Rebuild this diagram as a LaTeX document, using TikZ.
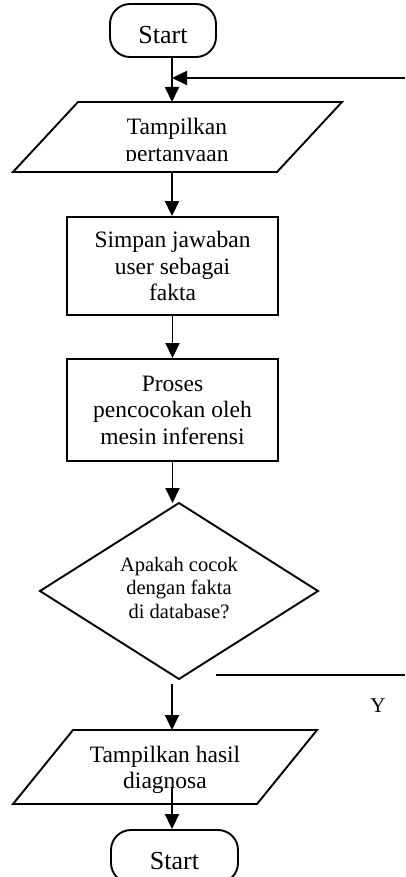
\documentclass[tikz,border=0pt]{standalone}
\usepackage{fontspec}
\setmainfont{Liberation Serif}
\usetikzlibrary{arrows.meta}
\begin{document}
\begin{tikzpicture}[x=1pt,y=-1pt,
  line width=1.9pt,
  shapeline/.style={draw=black,line width=1.9pt,line join=miter},
  flow/.style={-{Triangle[length=15pt,width=14pt]},line width=1.9pt},
  txt/.style={font=\fontsize{23.5}{26.5}\selectfont,align=center,inner sep=0pt},
  dtxt/.style={font=\fontsize{20.5}{23.3}\selectfont,align=center,inner sep=0pt},
  term/.style={draw,rounded corners=20pt,minimum width=106pt,minimum height=53pt,inner sep=0pt,
    line width=1.9pt,font=\fontsize{26}{28}\selectfont,text height=26pt,text depth=0pt},
  boxst/.style={draw,minimum width=211pt,inner sep=0pt,line width=1.9pt,
    font=\fontsize{23.5}{26.5}\selectfont,align=center}
]
\clip (0,0) rectangle (405,877);
\fill[white] (0,0) rectangle (405,877);

% terminal start
\node[term] (s1) at (163,30.5) {Start};

% parallelogram 1
\coordinate (p1a) at (78,102);
\coordinate (p1c) at (342,102);
\coordinate (p1d) at (277,172);
\coordinate (p1e) at (13,172);
\draw[shapeline] (p1a) -- (p1c) -- (p1d) -- (p1e) -- cycle;
\begin{scope}
\clip (0,0) rectangle (405,160.5);
\node[txt] (p1) at (177,142.6) {Tampilkan\\pertanyaan};
\end{scope}
\coordinate (p1t) at (172,102);
\coordinate (p1b) at (172,172);

% boxes
\node[boxst,minimum height=98pt] (b1) at (172.5,266) {Simpan jawaban\\user sebagai\\fakta};
\node[boxst,minimum height=102pt] (b2) at (172.5,410) {Proses\\pencocokan oleh\\mesin inferensi};

% decision
\coordinate (dT) at (179,503);
\coordinate (dR) at (318,591);
\coordinate (dB) at (179,679);
\coordinate (dL) at (40,591);
\draw[shapeline] (dT) -- (dR) -- (dB) -- (dL) -- cycle;
\node[dtxt] (d) at (179,588) {Apakah cocok\\dengan fakta\\di database?};

% parallelogram 2
\coordinate (p2a) at (73,730);
\coordinate (p2c) at (317,730);
\coordinate (p2d) at (257,804);
\coordinate (p2e) at (13,804);
\draw[shapeline] (p2a) -- (p2c) -- (p2d) -- (p2e) -- cycle;
\node[txt] (p2) at (165,770) {Tampilkan hasil\\diagnosa};
\coordinate (p2t) at (172,730);
\coordinate (p2in) at (172,787);

% terminal end
\node[term,minimum width=127pt] (s2) at (174.5,856.5) {Start};

% connectors
\coordinate (fbR) at (405,78);
\draw[flow] (s1.south -| p1t) -- (p1t);
\draw[flow] (fbR) -- (fbR -| p1t);
\draw[flow] (p1b) -- (b1.north -| p1b);
\draw[flow] (b1.south) -- (b2.north);
\draw[flow] (b2.south) -- (b2.south |- dT);
\coordinate (yL) at (216,675);
\coordinate (yR) at (405,675);
\draw (yL) -- (yR);
\node[font=\fontsize{21}{24}\selectfont,anchor=base,inner sep=0pt] (ylab) at (378,712) {Y};
\coordinate (dOut) at (172,684);
\draw[flow] (dOut) -- (p2t);
\draw[flow] (p2in) -- (s2.north -| p2in);
\end{tikzpicture}
\end{document}
